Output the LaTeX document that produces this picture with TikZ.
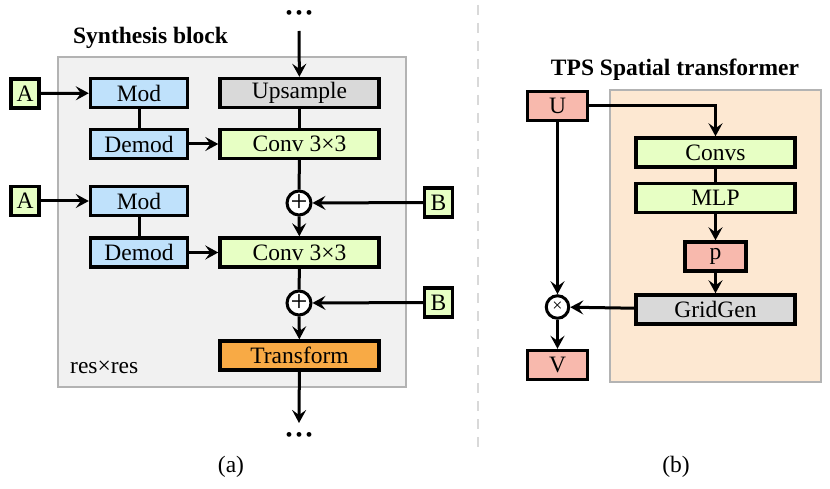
\documentclass[tikz,border=0pt]{standalone}
\usepackage{fontspec}
\setmainfont{Liberation Serif}
\usetikzlibrary{arrows.meta}
\definecolor{cblue}{HTML}{BFE1FB}
\definecolor{cgreen}{HTML}{E7FFC4}
\definecolor{csalmon}{HTML}{F8B9AD}
\definecolor{corange}{HTML}{F8AA45}
\definecolor{cgrey}{HTML}{D9D9D9}
\definecolor{cbggrey}{HTML}{F1F1F1}
\definecolor{cbgorange}{HTML}{FDE8D2}
\definecolor{cframe}{HTML}{B3B3B3}
\tikzset{
  blk/.style={draw=black, line width=3.4pt, inner sep=0pt, anchor=center, minimum height=29pt},
  wide/.style={blk, minimum width=159pt},
  mid/.style={blk, minimum width=97pt},
  sq/.style={blk, minimum width=28pt, fill=cgreen},
  small/.style={blk, minimum width=60pt, fill=csalmon},
  opc/.style={draw=black, line width=3pt, circle, fill=white, inner sep=0pt, minimum size=23.5pt},
  conn/.style={line width=3pt},
  arr/.style={line width=3pt, -{Stealth[length=13pt,width=14pt,inset=5pt]}},
  panel/.style={draw=cframe, line width=2.8pt},
  ttl/.style={font=\fontsize{23.5}{28}\selectfont\bfseries},
  dots/.style={font=\fontsize{20}{22}\selectfont, inner sep=0pt},
}
\begin{document}
\begin{tikzpicture}[x=1pt,y=1pt,font=\fontsize{23.5}{28}\selectfont]
\useasboundingbox[fill=white] (0,0) rectangle (830,-489);
% ---------- panel (a)
\draw[panel, fill=cbggrey] (58,-57) rectangle (406,-387);
\node[ttl] (ttla) at (150.5,-38) {Synthesis block};
\node[anchor=west, inner sep=0pt] (res) at (70,-367) {res×res};

\node[sq] (A1) at (25,-93.5) {A};
\node[mid, fill=cblue] (mod1) at (139,-93) {Mod};
\node[wide, fill=cgrey] (up) at (299.5,-93) {Upsample};
\node[mid, fill=cblue] (dem1) at (139,-144) {Demod};
\node[wide, fill=cgreen] (conv1) at (299.5,-144) {Conv 3×3};
\node[opc, font=\fontsize{30}{30}\selectfont] (p1) at (299,-203) {+};
\node[sq] (A2) at (25,-201) {A};
\node[mid, fill=cblue] (mod2) at (139,-201) {Mod};
\node[mid, fill=cblue] (dem2) at (139,-252.5) {Demod};
\node[wide, fill=cgreen] (conv2) at (299.5,-252.5) {Conv 3×3};
\node[opc, font=\fontsize{30}{30}\selectfont] (p2) at (299,-303) {+};
\node[wide, fill=corange] (tr) at (299.5,-355.5) {Transform};
\node[sq] (B1) at (438.5,-202.5) {B};
\node[sq] (B2) at (438.5,-302.5) {B};

\node[dots] (tdots) at (299,-15) {\textbullet\hspace{3pt}\textbullet\hspace{3pt}\textbullet};
\node[dots] (bdots) at (299,-437) {\textbullet\hspace{3pt}\textbullet\hspace{3pt}\textbullet};
\coordinate (tin) at (299,-31);
\coordinate (bout) at (299,-423);

\draw[arr] (tin) -- (up);
\draw[conn] (up) -- (conv1);
\draw[arr] (A1) -- (mod1);
\draw[conn] (mod1) -- (dem1);
\draw[arr] (dem1) -- (conv1);
\draw[conn] (conv1) -- (p1);
\draw[arr] (p1) -- (conv2);
\draw[arr] (B1) -- (p1);
\draw[arr] (A2) -- (mod2);
\draw[conn] (mod2) -- (dem2);
\draw[arr] (dem2) -- (conv2);
\draw[conn] (conv2) -- (p2);
\draw[arr] (p2) -- (tr);
\draw[arr] (B2) -- (p2);
\draw[arr] (tr) -- (bout);
\node (capa) at (231,-467) {(a)};

% ---------- divider
\coordinate (dtop) at (478,-5);
\coordinate (dbot) at (478,-452);
\draw[cgrey, line width=2.8pt, dash pattern=on 10pt off 8pt] (dtop) -- (dbot);

% ---------- panel (b)
\node[ttl] (ttlb) at (675,-70) {TPS Spatial transformer};
\draw[panel, fill=cbgorange] (610,-90) rectangle (821,-382);
\node[small] (U) at (557.5,-106) {U};
\node[wide, fill=cgreen] (convs) at (715.5,-152.5) {Convs};
\node[wide, fill=cgreen] (mlp) at (715.5,-198) {MLP};
\node[small, minimum width=61pt] (pp) at (715.5,-256.5) {p};
\node[wide, fill=cgrey] (grid) at (715.5,-309.5) {GridGen};
\node[opc, minimum size=22.5pt, font=\fontsize{18}{18}\selectfont] (tm) at (557.5,-307) {×};
\node[small] (V) at (557.5,-365) {V};

\draw[arr] (U.east) -| (convs.north);
\draw[conn] (convs) -- (mlp);
\draw[arr] (mlp) -- (pp);
\draw[arr] (pp) -- (grid);
\draw[arr] (grid) -- (tm);
\draw[arr] (U) -- (tm);
\draw[arr] (tm) -- (V);
\node (capb) at (676,-467) {(b)};
\end{tikzpicture}
\end{document}
